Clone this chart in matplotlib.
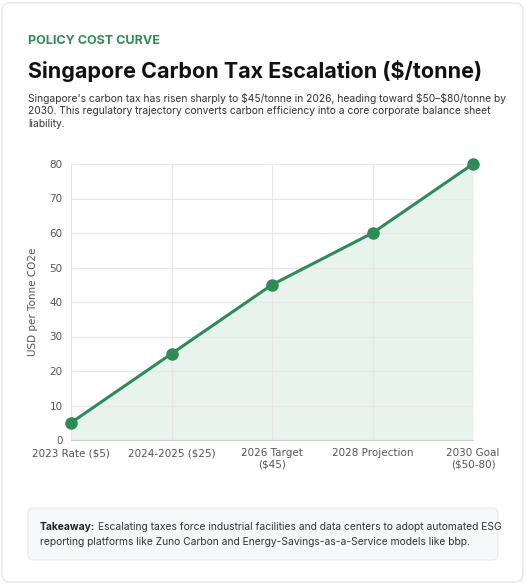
import matplotlib.pyplot as plt
from matplotlib.patches import FancyBboxPatch

labels = ["2023 Rate ($5)", "2024-2025 ($25)", "2026 Target\n($45)", "2028 Projection", "2030 Goal\n($50-80)"]
values = [5, 25, 45, 60, 80]
yticks = [0, 10, 20, 30, 40, 50, 60, 70, 80]

green = "#2e8b57"
fig = plt.figure(figsize=(5.26, 5.84), dpi=100)
W, H = 526, 584

# card outline
fig.patches.append(FancyBboxPatch((2 / W, 2 / H), 521 / W, 579 / H, boxstyle="round,pad=0,rounding_size=0.015",
                                  transform=fig.transFigure, fc="white", ec="#e3e6ea", lw=1, zorder=-10))

fig.text(28 / W, 1 - 41 / H, "POLICY COST CURVE", color=green, fontsize=9, fontweight="bold", va="center",
         family="Inter")
fig.text(28 / W, 1 - 71 / H, "Singapore Carbon Tax Escalation ($/tonne)", color="#111111", fontsize=15.5,
         fontweight="bold", va="center", family="Inter")
fig.text(28 / W, 1 - 111 / H,
         "Singapore's carbon tax has risen sharply to $45/tonne in 2026, heading toward $50–$80/tonne by\n"
         "2030. This regulatory trajectory converts carbon efficiency into a core corporate balance sheet\n"
         "liability.", color="#333333", fontsize=7.4, va="center", linespacing=1.35, family="Inter")

ax = fig.add_axes([71 / W, 1 - 440 / H, 402 / W, 276 / H])
x = list(range(len(values)))
ax.fill_between(x, values, 0, color=green, alpha=0.1, lw=0)
ax.plot(x, values, color=green, lw=2.2, marker="o", ms=8, clip_on=False, zorder=3)
ax.set_xlim(0, 4)
ax.set_ylim(0, 80)
ax.set_yticks(yticks)
ax.set_xticks(x)
ax.set_xticklabels(labels)
ax.tick_params(colors="#555555", labelsize=7.5, length=0, pad=6)
ax.grid(True, color="#e6e6e6", lw=0.8)
for s in ["top", "right", "left"]:
    ax.spines[s].set_visible(False)
ax.spines["bottom"].set_color("#cccccc")
ax.set_ylabel("USD per Tonne CO2e", fontsize=7.5, color="#555555", labelpad=8)

fig.patches.append(FancyBboxPatch((28 / W, 1 - 560 / H), 470 / W, 52 / H, boxstyle="round,pad=0,rounding_size=0.01",
                                  transform=fig.transFigure, fc="#f7f8fa", ec="#e6e8eb", lw=0.8, zorder=-5))
bold = fig.text(40 / W, 1 - 527 / H, "Takeaway:", fontsize=7.4, color="#222222", va="center",
                fontweight="bold", family="Inter")
fig.canvas.draw()
bx = bold.get_window_extent().x1
fig.text(bx / W + 3 / W, 1 - 527 / H,
         "Escalating taxes force industrial facilities and data centers to adopt automated ESG",
         fontsize=7.4, color="#333333", va="center", family="Inter")
fig.text(40 / W, 1 - 542 / H,
         "reporting platforms like Zuno Carbon and Energy-Savings-as-a-Service models like bbp.",
         fontsize=7.4, color="#333333", va="center", family="Inter")

fig.savefig("out.png", dpi=100)
